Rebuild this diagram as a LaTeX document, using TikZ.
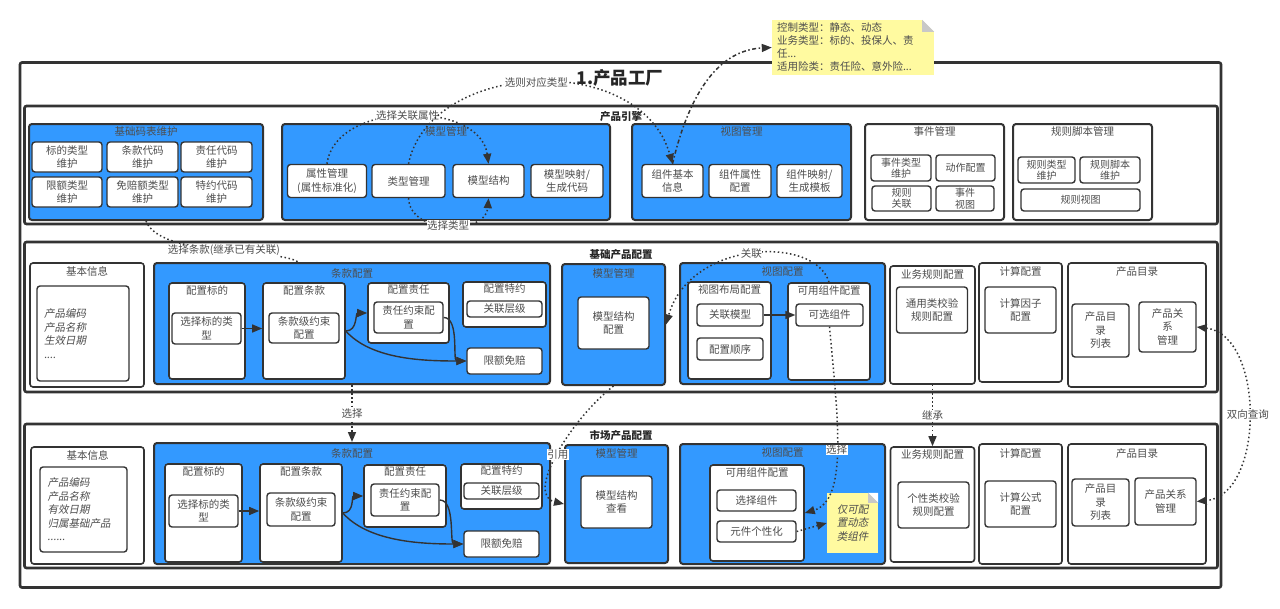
\documentclass[tikz,border=0pt]{standalone}
\usepackage{fontspec}
\setmainfont{Noto Sans CJK SC}
\newfontfamily\slantfont[FakeSlant=0.2]{Noto Sans CJK SC}
\usepackage{tikz}
\usetikzlibrary{arrows.meta,positioning,calc}

\definecolor{cblue}{HTML}{3399FF}
\definecolor{linedark}{HTML}{333333}
\definecolor{txtgray}{HTML}{4D4D4D}
\definecolor{memoyel}{HTML}{FFFAA0}
\definecolor{foldgray}{HTML}{C8C8C8}
\newcommand{\boxfont}{\fontsize{10.5}{13.5}\selectfont}
\newcommand{\tightfont}{\fontsize{10}{11.5}\selectfont}

\begin{document}
\begin{tikzpicture}[
  x=1pt, y=-1pt,
  dims/.style 2 args={minimum width=#1pt, minimum height=#2pt},
  panel/.style={draw=linedark, line width=2.6pt, rounded corners=2pt, fill=white},
  bluebox/.style={draw=linedark, line width=2pt, rounded corners=3pt, fill=cblue},
  whitebox/.style={draw=linedark, line width=1.6pt, rounded corners=3pt, fill=white},
  box/.style={draw=linedark, line width=1.4pt, rounded corners=3pt, fill=white, font=\boxfont, text=txtgray, align=center, inner sep=1pt},
  ttl/.style={font=\boxfont, text=txtgray, inner sep=1pt},
  head/.style={font=\boxfont\bfseries, text=black!85, inner sep=1pt},
  memo/.style={fill=memoyel, font=\boxfont, text=txtgray, inner sep=3pt},
  lbl/.style={font=\boxfont, text=txtgray, fill=white, inner sep=0.5pt},
  arrow/.style={-{Triangle[length=10pt,width=8pt]}, line width=1.4pt, draw=linedark},
  dotline/.style={line width=1.5pt, draw=linedark, dash pattern=on 1.5pt off 2.6pt},
  dotarrow/.style={dotline, -{Triangle[length=10pt,width=8pt]}},
  dasharrow/.style={line width=1.5pt, draw=linedark, dash pattern=on 4pt off 2.5pt on 1.5pt off 2.5pt, -{Triangle[length=10pt,width=8pt]}}
]
\useasboundingbox (0,0) rectangle (1280,608);

% Frame
\node[panel, dims={1201}{525}] (gongchang) at (620.5,325) {};
\node[head, font=\fontsize{17.5}{20}\selectfont\bfseries] (gongchangt) at (620,78) {1.产品工厂};

% Product engine
\node[panel, dims={1193}{118}] (yinqing) at (621,165) {};
\node[head, below=6pt of yinqing.north] (yinqingt) {产品引擎};

\node[bluebox, dims={234}{96}] (jcmb) at (146,172) {};
\node[ttl, below=2pt of jcmb.north] (jcmbt) {基础码表维护};
\node[box, dims={70}{30}] (bdlx) at (67,157) {标的类型\\维护};
\node[box, dims={71}{30}] (tkdm) at (142.5,157) {条款代码\\维护};
\node[box, dims={71}{30}] (zrdm) at (216.5,157) {责任代码\\维护};
\node[box, dims={70}{30}] (xelx) at (67,192) {限额类型\\维护};
\node[box, dims={71}{30}] (mpelx) at (142.5,192) {免赔额类型\\维护};
\node[box, dims={71}{30}] (tydm) at (216.5,192) {特约代码\\维护};

\node[bluebox, dims={328}{96}] (mxgl) at (446,172) {};
\node[ttl, below=2pt of mxgl.north] (mxglt) {模型管理};
\node[box, dims={79}{33}] (sxgl) at (327,181) {属性管理\\(属性标准化)};
\node[box, dims={73}{33}] (lxgl) at (408.5,181) {类型管理};
\node[box, dims={71}{33}] (mxjg) at (488.5,181) {模型结构};
\node[box, dims={72}{33}] (mxys) at (567,181) {模型映射/\\生成代码};

\node[bluebox, dims={219}{96}] (stgl) at (741.5,172) {};
\node[ttl, below=2pt of stgl.north] (stglt) {视图管理};
\node[box, dims={61}{33}] (zjjb) at (672.5,181) {组件基本\\信息};
\node[box, dims={62}{33}] (zjsx) at (740,181) {组件属性\\配置};
\node[box, dims={65}{33}] (zjys) at (809.5,181) {组件映射/\\生成模板};

\node[whitebox, line width=2pt, dims={139}{96}] (sjgl) at (934.5,172) {};
\node[ttl, below=2pt of sjgl.north] (sjglt) {事件管理};
\node[box, font=\tightfont, dims={60}{26}] (sjlx) at (901,168) {事件类型\\维护};
\node[box, font=\tightfont, dims={59}{26}] (dzpz) at (965.5,168) {动作配置};
\node[box, font=\tightfont, dims={59}{25}] (gzgl) at (901.5,198.5) {规则\\关联};
\node[box, font=\tightfont, dims={58}{25}] (sjst) at (965,198.5) {事件\\视图};

\node[whitebox, line width=2pt, dims={139}{96}] (gzjb) at (1082.5,172) {};
\node[ttl, below=2pt of gzjb.north] (gzjbt) {规则脚本管理};
\node[box, font=\tightfont, dims={57}{26}] (gzlx) at (1046.5,170) {规则类型\\维护};
\node[box, font=\tightfont, dims={60}{26}] (gzjbwh) at (1110,170) {规则脚本\\维护};
\node[box, font=\tightfont, dims={119}{22}] (gzst) at (1080.5,200) {规则视图};

% Base product
\node[panel, dims={1193}{150}] (jccp) at (621,317) {};
\node[head, below=8pt of jccp.north] (jccpt) {基础产品配置};

\node[whitebox, dims={114}{124}] (jbxx1) at (87,325) {};
\node[ttl, below=3pt of jbxx1.north] (jbxx1t) {基本信息};
\node[box, dims={92}{95}, text width=78pt, align=left, font=\slantfont\boxfont] (jbxx1n) at (83,333.5) {产品编码\\产品名称\\生效日期\\....};

\node[bluebox, dims={396}{121}] (tkpz1) at (352,323.5) {};
\node[ttl, below=5pt of tkpz1.north] (tkpz1t) {条款配置};
\node[whitebox, dims={76}{96}] (pzbd1) at (207,331) {};
\node[ttl, below=2pt of pzbd1.north] (pzbd1t) {配置标的};
\node[box, dims={69}{31}] (xzbd1) at (206.5,328.5) {选择标的类\\型};
\node[whitebox, dims={82}{96}] (pztk1) at (304,331) {};
\node[ttl, below=2pt of pztk1.north] (pztk1t) {配置条款};
\node[box, dims={70}{30}] (tkys1) at (304,328) {条款级约束\\配置};
\node[whitebox, dims={81}{60}] (pzzr1) at (408.5,313) {};
\node[ttl, below=1pt of pzzr1.north] (pzzr1t) {配置责任};
\node[box, dims={69}{31}] (zrys1) at (408.5,317.5) {责任约束配\\置};
\node[whitebox, dims={83}{45}] (pzty1) at (504.5,304.5) {};
\node[ttl, below=1pt of pzty1.north] (pzty1t) {配置特约};
\node[box, dims={75}{16}] (glcj1) at (504.5,309) {关联层级};
\node[box, dims={75}{26}] (xemp1) at (504.5,361) {限额免赔};

\node[bluebox, dims={103}{121}] (mxgl1) at (613.5,324.5) {};
\node[ttl, below=4pt of mxgl1.north] (mxgl1t) {模型管理};
\node[box, dims={71}{52}] (mxjg1) at (613.5,323) {模型结构\\配置};

\node[bluebox, dims={205}{121}] (stpz1) at (782.5,323.5) {};
\node[ttl, below=3pt of stpz1.north] (stpz1t) {视图配置};
\node[whitebox, dims={83}{97}] (stbj1) at (729.5,330.5) {};
\node[ttl, below=2pt of stbj1.north] (stbj1t) {视图布局配置};
\node[box, dims={66}{22}] (glmx1) at (730,315) {关联模型};
\node[box, dims={66}{22}] (pzsx1) at (730,349) {配置顺序};
\node[whitebox, dims={82}{97}] (kyzj1) at (829,331.5) {};
\node[ttl, below=2pt of kyzj1.north] (kyzj1t) {可用组件配置};
\node[box, dims={67}{22}] (kxzj1) at (829.5,315) {可选组件};

\node[whitebox, dims={85}{118}] (ywgz1) at (932.5,325) {};
\node[ttl, below=3pt of ywgz1.north] (ywgz1t) {业务规则配置};
\node[box, dims={71}{46}] (tylx1) at (932,310) {通用类校验\\规则配置};

\node[whitebox, dims={83}{119}] (jspz1) at (1020.5,322.5) {};
\node[ttl, below=3pt of jspz1.north] (jspz1t) {计算配置};
\node[box, dims={71}{46}] (jsyz1) at (1020.5,310) {计算因子\\配置};

\node[whitebox, dims={138}{124}] (cpml1) at (1137,325) {};
\node[ttl, below=3pt of cpml1.north] (cpml1t) {产品目录};
\node[box, dims={57}{53}] (cpmllb1) at (1100.5,330.5) {产品目\\录\\列表};
\node[box, dims={57}{50}] (cpgx1) at (1167.5,327) {产品关\\系\\管理};

% Market product
\node[panel, dims={1193}{144}] (sccp) at (621,496) {};
\node[head, below=6pt of sccp.north] (sccpt) {市场产品配置};

\node[whitebox, dims={113}{117}] (jbxx2) at (87.5,505.5) {};
\node[ttl, below=3pt of jbxx2.north] (jbxx2t) {基本信息};
\node[box, dims={87}{85}, text width=72pt, align=left, font=\slantfont\boxfont] (jbxx2n) at (83.5,509.5) {产品编码\\产品名称\\有效日期\\归属基础产品\\......};

\node[bluebox, dims={396}{121}] (tkpz2) at (352,503.5) {};
\node[ttl, below=5pt of tkpz2.north] (tkpz2t) {条款配置};
\node[whitebox, dims={77}{98}] (pzbd2) at (203.5,513) {};
\node[ttl, below=2pt of pzbd2.north] (pzbd2t) {配置标的};
\node[box, dims={69}{32}] (xzbd2) at (203.5,511) {选择标的类\\型};
\node[whitebox, dims={82}{98}] (pztk2) at (301,513) {};
\node[ttl, below=2pt of pztk2.north] (pztk2t) {配置条款};
\node[box, dims={68}{33}] (tkys2) at (301,509.5) {条款级约束\\配置};
\node[whitebox, dims={82}{62}] (pzzr2) at (405,496) {};
\node[ttl, below=1pt of pzzr2.north] (pzzr2t) {配置责任};
\node[box, dims={68}{32}] (zrys2) at (405,500) {责任约束配\\置};
\node[whitebox, dims={81}{45}] (pzty2) at (501.5,486.5) {};
\node[ttl, below=1pt of pzty2.north] (pzty2t) {配置特约};
\node[box, dims={75}{16}] (glcj2) at (501.5,491) {关联层级};
\node[box, dims={75}{26}] (xemp2) at (501.5,544) {限额免赔};

\node[bluebox, dims={103}{118}] (mxgl2) at (616.5,504) {};
\node[ttl, below=3pt of mxgl2.north] (mxgl2t) {模型管理};
\node[box, dims={71}{52}] (mxck2) at (616.5,502) {模型结构\\查看};

\node[bluebox, dims={205}{120}] (stpz2) at (782.5,504) {};
\node[ttl, below=3pt of stpz2.north] (stpz2t) {视图配置};
\node[whitebox, dims={94}{96}] (kyzj2) at (757,513) {};
\node[ttl, below=2pt of kyzj2.north] (kyzj2t) {可用组件配置};
\node[box, dims={79}{21}] (xzzj2) at (756.5,500.5) {选择组件};
\node[box, dims={79}{21}] (yjgx2) at (756.5,531.5) {元件个性化};
\node[memo, dims={51}{60}, align=center, font=\slantfont\boxfont] (memo2) at (852.5,523) {仅可配\\置动态\\类组件};
\fill[white] ([xshift=-10pt]memo2.north east) -- (memo2.north east) -- ([yshift=-10pt]memo2.north east) -- cycle;
\fill[foldgray] ([xshift=-10pt]memo2.north east) -- ([xshift=-10pt,yshift=-10pt]memo2.north east) -- ([yshift=-10pt]memo2.north east) -- cycle;

\node[whitebox, dims={84}{115}] (ywgz2) at (932.5,504.5) {};
\node[ttl, below=2pt of ywgz2.north] (ywgz2t) {业务规则配置};
\node[box, dims={71}{46}] (gxlx2) at (933.5,505) {个性类校验\\规则配置};

\node[whitebox, dims={83}{120}] (jspz2) at (1020.5,504) {};
\node[ttl, below=4pt of jspz2.north] (jspz2t) {计算配置};
\node[box, dims={71}{46}] (jsgs2) at (1020.5,504) {计算公式\\配置};

\node[whitebox, dims={138}{120}] (cpml2) at (1137,504) {};
\node[ttl, below=4pt of cpml2.north] (cpml2t) {产品目录};
\node[box, dims={57}{47}] (cpmllb2) at (1100.5,502.5) {产品目\\录\\列表};
\node[box, dims={61}{47}] (cpgx2) at (1165.5,501.5) {产品关系\\管理};

% Note
\node[memo, dims={162}{51}, text width=152pt, align=left, font=\fontsize{10.5}{13}\selectfont] (memo) at (853,47.5) {控制类型：静态、动态\\业务类型：标的、投保人、责\\任...\\适用险类：责任险、意外险...};
\fill[white] ([xshift=-12pt]memo.north east) -- (memo.north east) -- ([yshift=-12pt]memo.north east) -- cycle;
\fill[foldgray] ([xshift=-12pt]memo.north east) -- ([xshift=-12pt,yshift=-12pt]memo.north east) -- ([yshift=-12pt]memo.north east) -- cycle;

% Arrows inside clause config
\draw[arrow] (xzbd1.east) -- (xzbd1.east -| pztk1.west);
\draw[arrow] (pztk1.east) .. controls +(12,0) and +(-12,0) .. (pzzr1.west);
\draw[arrow] (pztk1.east) .. controls +(25,28) and +(-45,0) .. (xemp1.west);
\draw[arrow] (zrys1.east) .. controls +(16,0) and +(-14,0) .. (xemp1.west);
\draw[arrow] (xzbd2.east) -- (xzbd2.east -| pztk2.west);
\draw[arrow] (pztk2.east) .. controls +(12,0) and +(-12,0) .. (pzzr2.west);
\draw[arrow] (pztk2.east) .. controls +(25,28) and +(-45,0) .. (xemp2.west);
\draw[arrow] (zrys2.east) .. controls +(16,0) and +(-14,0) .. (xemp2.west);
\draw[arrow] (glmx1) -- (kxzj1);

% Dotted links
\draw[dotarrow] (sxgl.north) .. controls (335,100) and (480,100) .. (mxjg.north) node[lbl, pos=0.5] (xzglsx) {选择关联属性};
\draw[dotarrow] (lxgl.south) .. controls (410,235) and (486,235) .. (mxjg.south) node[lbl, pos=0.5] (xzlx) {选择类型};
\draw[dotarrow] (lxgl.north) .. controls (430,60) and (640,50) .. (zjjb.north) node[lbl, pos=0.5] (xzdylx) {选则对应类型};
\draw[dasharrow] (zjjb.north) .. controls (690,90) and (720,50) .. (memo.west);
\draw[dotline] (jcmb.south) .. controls (160,258) and (278,248) .. ([xshift=-54pt]tkpz1.north) node[lbl, pos=0.52] (xztk) {选择条款(继承已有关联)};
\draw[dotarrow] (tkpz1.south) -- (tkpz2.north) node[lbl, midway] (xz1) {选择};
\draw[dotarrow] (ywgz1.south) -- (ywgz2.north) node[lbl, midway] (jc) {继承};
\draw[dotarrow] (kyzj1.north) .. controls (815,235) and (690,240) .. (mxgl1.east) node[lbl, pos=0.5] (gl) {关联};
\draw[dotarrow] (mxgl1.south) .. controls (570,420) and (525,495) .. (mxgl2.west) node[lbl, pos=0.5] (yy) {引用};
\draw[dotarrow] (kxzj1.south) .. controls (838,420) and (848,500) .. (kyzj2.east) node[lbl, pos=0.5] (xz2) {选择};
\draw[dotarrow] (yjgx2.east) -- (memo2.west);
\draw[dotline, {Triangle[length=10pt,width=8pt]}-{Triangle[length=10pt,width=8pt]}] (cpgx1.east) .. controls (1265,335) and (1265,495) .. (cpgx2.east) node[lbl, pos=0.5] (sxcx) {双向查询};

\end{tikzpicture}
\end{document}
